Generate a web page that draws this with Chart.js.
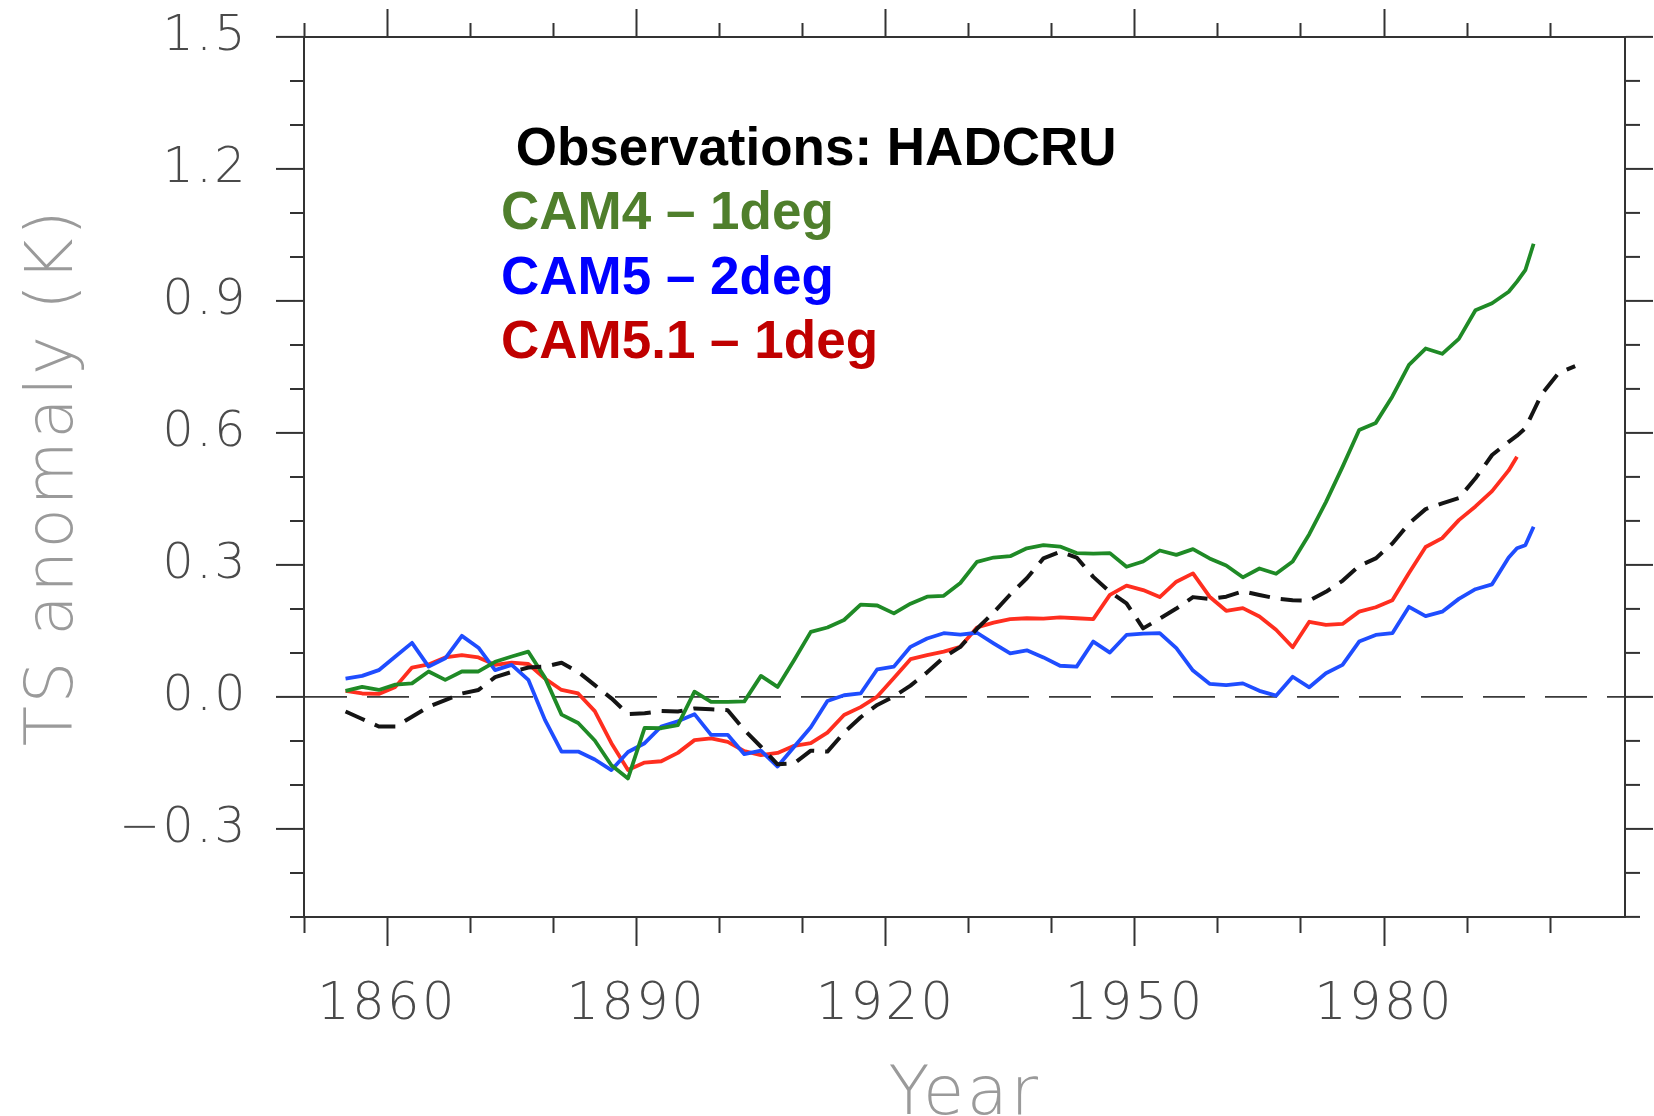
<!DOCTYPE html>
<html>
<head>
<meta charset="utf-8">
<script src="https://cdn.jsdelivr.net/npm/chart.js@4.4.1/dist/chart.umd.min.js"></script>
<style>
  html, body { margin: 0; padding: 0; background: #ffffff; }
  #wrap { width: 1654px; height: 1116px; }
</style>
</head>
<body>
<div id="wrap"><canvas id="ts-chart" width="1654" height="1116"></canvas></div>
<script>
// sample years (2-year steps, plus the series end points)
const years = [
  1855, 1857, 1859, 1861, 1863, 1865, 1867, 1869, 1871, 1873,
  1875, 1877, 1879, 1881, 1883, 1885, 1887, 1889, 1891, 1893,
  1895, 1897, 1899, 1901, 1903, 1905, 1907, 1909, 1911, 1913,
  1915, 1917, 1919, 1921, 1923, 1925, 1927, 1929, 1931, 1933,
  1935, 1937, 1939, 1941, 1943, 1945, 1947, 1949, 1951, 1953,
  1955, 1957, 1959, 1961, 1963, 1965, 1967, 1969, 1971, 1973,
  1975, 1977, 1979, 1981, 1983, 1985, 1987, 1989, 1991, 1993,
  1995, 1996, 1997, 1998, 1999, 2001, 2003
];

const hadcru = [
  -0.033, -0.050, -0.067, -0.067, -0.045, -0.022, -0.007, 0.008, 0.016, 0.045,
  0.057, 0.067, 0.069, 0.078, 0.057, 0.027, -0.003, -0.039, -0.037, -0.032,
  -0.033, -0.026, -0.028, -0.030, -0.075, -0.113, -0.153, -0.151, -0.122, -0.124,
  -0.081, -0.046, -0.018, 0.001, 0.026, 0.056, 0.090, 0.114, 0.155, 0.192,
  0.233, 0.270, 0.315, 0.330, 0.317, 0.273, 0.239, 0.213, 0.156, 0.178,
  0.201, 0.227, 0.223, 0.228, 0.240, 0.232, 0.224, 0.220, 0.219, 0.239,
  0.264, 0.298, 0.315, 0.349, 0.394, 0.427, 0.440, 0.452, 0.497, 0.550,
  0.580, 0.594, 0.611, 0.650, 0.689, 0.736, 0.752
];

const cam4 = [
  0.014, 0.023, 0.016, 0.028, 0.031, 0.058, 0.039, 0.058, 0.058, 0.080,
  0.092, 0.103, 0.044, -0.040, -0.059, -0.099, -0.155, -0.185, -0.070, -0.071,
  -0.064, 0.012, -0.011, -0.011, -0.010, 0.048, 0.023, 0.084, 0.148, 0.158,
  0.175, 0.210, 0.208, 0.190, 0.212, 0.228, 0.230, 0.259, 0.307, 0.317,
  0.320, 0.338, 0.345, 0.342, 0.327, 0.326, 0.327, 0.296, 0.308, 0.333,
  0.323, 0.336, 0.315, 0.299, 0.272, 0.292, 0.280, 0.308, 0.370, 0.443,
  0.523, 0.607, 0.623, 0.683, 0.755, 0.792, 0.780, 0.814, 0.879, 0.895,
  0.921, 0.944, 0.970, 1.030, null, null, null
];

const cam5 = [
  0.042, 0.048, 0.061, 0.092, 0.123, 0.069, 0.088, 0.139, 0.112, 0.061,
  0.073, 0.039, -0.052, -0.124, -0.124, -0.142, -0.166, -0.125, -0.105, -0.067,
  -0.055, -0.039, -0.086, -0.086, -0.130, -0.122, -0.158, -0.113, -0.069, -0.009,
  0.004, 0.008, 0.063, 0.069, 0.114, 0.133, 0.145, 0.142, 0.146, 0.122,
  0.099, 0.106, 0.090, 0.071, 0.069, 0.126, 0.101, 0.141, 0.144, 0.145,
  0.111, 0.060, 0.030, 0.027, 0.031, 0.014, 0.003, 0.046, 0.022, 0.054,
  0.073, 0.126, 0.141, 0.145, 0.205, 0.184, 0.194, 0.223, 0.245, 0.256,
  0.317, 0.338, 0.345, 0.387, null, null, null
];

const cam51 = [
  0.014, 0.008, 0.007, 0.023, 0.067, 0.074, 0.090, 0.095, 0.090, 0.073,
  0.078, 0.075, 0.042, 0.016, 0.008, -0.032, -0.105, -0.166, -0.149, -0.146,
  -0.127, -0.098, -0.094, -0.102, -0.123, -0.132, -0.127, -0.111, -0.105, -0.081,
  -0.041, -0.023, 0.001, 0.043, 0.086, 0.095, 0.103, 0.114, 0.158, 0.169,
  0.177, 0.179, 0.178, 0.181, 0.179, 0.177, 0.232, 0.253, 0.243, 0.227,
  0.262, 0.281, 0.228, 0.196, 0.202, 0.183, 0.153, 0.113, 0.171, 0.164,
  0.166, 0.194, 0.204, 0.220, 0.282, 0.341, 0.361, 0.402, 0.433, 0.468,
  0.515, 0.546, null, null, null, null, null
];

const legendLines = [
  { text: ' Observations: HADCRU', color: '#000000' },
  { text: 'CAM4 \u2013 1deg', color: '#4f7f2c' },
  { text: 'CAM5 \u2013 2deg', color: '#0000ff' },
  { text: 'CAM5.1 \u2013 1deg', color: '#c00000' }
];

const axisColor = '#333333';
const labelFont = 'DejaVu Sans';

function toPoints(vals) {
  return years.map((yr, i) => ({ x: yr, y: vals[i] })).filter(p => p.y !== null);
}
function isMajorYear(v) {
  return (Math.round(v) - 1860) % 30 === 0;
}
function isMajorTemp(v) {
  return Math.abs(v / 0.3 - Math.round(v / 0.3)) < 1e-6;
}
function tickVal(ctx) {
  return ctx && ctx.tick ? ctx.tick.value : null;
}

// the axis font of the original is wide, so space the letters a bit
const wideText = {
  id: 'wideText',
  beforeDraw(chart) { chart.ctx.letterSpacing = '2.5px'; },
  afterDraw(chart) { chart.ctx.letterSpacing = '0px'; }
};

// text block drawn inside the plot
const textBlock = {
  id: 'textBlock',
  afterDraw(chart) {
    const { ctx, chartArea } = chart;
    ctx.save();
    ctx.letterSpacing = '0px';
    ctx.font = 'bold 53px "Liberation Sans", Arial, sans-serif';
    ctx.textBaseline = 'alphabetic';
    ctx.textAlign = 'left';
    legendLines.forEach((ln, i) => {
      ctx.fillStyle = ln.color;
      ctx.fillText(ln.text, chartArea.left + 197, chartArea.top + 128 + i * 64.4);
    });
    ctx.restore();
  }
};

function xAxis(pos) {
  const bottom = pos === 'bottom';
  return {
    type: 'linear',
    axis: 'x',
    position: pos,
    min: 1850,
    max: 2009,
    border: { display: true, color: axisColor, width: 2 },
    grid: {
      drawOnChartArea: false,
      color: 'transparent',
      tickLength: bottom ? 29 : 28,
      tickWidth: 2,
      tickColor: axisColor,
      tickBorderDash: ctx => {
        const v = tickVal(ctx);
        if (v === null || isMajorYear(v)) return [];
        return bottom ? [15, 100] : [0, 14, 14];
      }
    },
    ticks: {
      display: bottom,
      stepSize: 10,
      includeBounds: false,
      autoSkip: false,
      maxRotation: 0,
      minRotation: 0,
      padding: 29,
      color: '#4a4a4a',
      font: { family: labelFont, size: 51, weight: 200 },
      callback: v => (isMajorYear(v) ? String(v) : '')
    },
    title: {
      display: bottom,
      text: 'Year',
      color: '#9a9a9a',
      font: { family: labelFont, size: 67, weight: 200, lineHeight: 0.58 },
      padding: 0
    },
    afterFit: s => {
      s.height = bottom ? 199 : 37;
      s.paddingLeft = 0;
      s.paddingRight = 0;
    }
  };
}

function yAxis(pos) {
  const left = pos === 'left';
  return {
    type: 'linear',
    axis: 'y',
    position: pos,
    min: -0.5,
    max: 1.5,
    // the dash only shows on the zero line, the other grid lines are transparent
    border: { display: true, color: axisColor, width: 2, dash: left ? [42, 20] : [] },
    grid: {
      drawOnChartArea: left,
      color: ctx => (tickVal(ctx) !== null && Math.abs(tickVal(ctx)) < 1e-9 ? '#3a3a3a' : 'transparent'),
      lineWidth: 1.8,
      tickLength: 28,
      tickWidth: 2,
      tickColor: axisColor,
      tickBorderDash: ctx => {
        const v = tickVal(ctx);
        if (v === null || isMajorTemp(v)) return [];
        return left ? [0, 14, 14] : [14, 100];
      }
    },
    ticks: {
      display: left,
      stepSize: 0.1,
      autoSkip: false,
      padding: 28,
      color: '#4a4a4a',
      font: { family: labelFont, size: 49, weight: 200 },
      callback: v => {
        if (!isMajorTemp(v)) return '';
        const s = Math.abs(v).toFixed(1);
        return v < -1e-9 ? '\u2212' + s : s;
      }
    },
    title: {
      display: left,
      text: 'TS anomaly (K)',
      color: '#9a9a9a',
      font: { family: labelFont, size: 66, weight: 200, lineHeight: 1 },
      padding: { top: 22, bottom: 0 }
    },
    afterFit: s => {
      s.width = left ? 304 : 29;
      s.paddingTop = 0;
      s.paddingBottom = 0;
    }
  };
}

const ctx = document.getElementById('ts-chart').getContext('2d');
new Chart(ctx, {
  type: 'line',
  data: {
    datasets: [
      {
        label: 'Observations: HADCRU',
        data: toPoints(hadcru),
        borderColor: '#141414',
        borderWidth: 4,
        borderDash: [21, 11]
      },
      {
        label: 'CAM4 - 1deg',
        data: toPoints(cam4),
        borderColor: '#1f8a26',
        borderWidth: 3.8
      },
      {
        label: 'CAM5 - 2deg',
        data: toPoints(cam5),
        borderColor: '#1f4dff',
        borderWidth: 3.8
      },
      {
        label: 'CAM5.1 - 1deg',
        data: toPoints(cam51),
        borderColor: '#ff2e1f',
        borderWidth: 3.8
      }
    ]
  },
  options: {
    responsive: false,
    animation: false,
    devicePixelRatio: 1,
    layout: { padding: 0 },
    parsing: false,
    elements: {
      point: { radius: 0 },
      line: { tension: 0, borderJoinStyle: 'round', fill: false }
    },
    plugins: {
      legend: { display: false },
      tooltip: { enabled: false }
    },
    scales: {
      x: xAxis('bottom'),
      xTop: xAxis('top'),
      y: yAxis('left'),
      yRight: yAxis('right')
    }
  },
  plugins: [wideText, textBlock]
});
</script>
</body>
</html>
